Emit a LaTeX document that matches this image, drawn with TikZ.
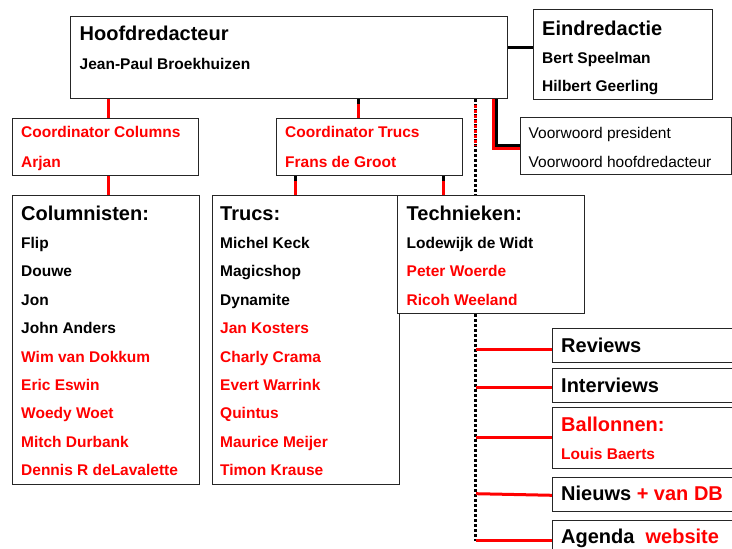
\documentclass[tikz,border=0pt]{standalone}
\usepackage{fontspec}
\setmainfont{Liberation Sans}
\pgfdeclarelayer{bg}
\pgfsetlayers{bg,main}
\begin{document}
\begin{tikzpicture}[x=1pt,y=-1pt,
  box/.style={draw=black!85, line width=1pt, fill=white, inner sep=0pt, anchor=north west, rectangle},
  ttl/.style={anchor=base west, inner sep=0pt, font=\fontsize{20}{24}\selectfont\bfseries},
  nm/.style={anchor=base west, inner sep=0pt, font=\fontsize{15.5}{18}\selectfont\bfseries},
  rg/.style={anchor=base west, inner sep=0pt, font=\fontsize{15.5}{18}\selectfont},
  rline/.style={draw=red, line width=3pt},
  bline/.style={draw=black, line width=3pt},
  dotline/.style={draw=black, line width=3pt, dash pattern=on 3pt off 2pt},
  rdotline/.style={draw=red, line width=3pt, dash pattern=on 3pt off 2pt}]
\useasboundingbox (0,0) rectangle (732,549);
% boxes
\node[box, minimum width=437.5pt, minimum height=82.3pt] (hoofd) at (69.5,15.7) {};
\node[box, minimum width=179.3pt, minimum height=90pt] (eind) at (532.7,9.3) {};
\node[box, minimum width=210.5pt, minimum height=57pt] (voor) at (520,117) {};
\node[box, minimum width=186pt, minimum height=56.7pt] (cc) at (12.3,118.3) {};
\node[box, minimum width=186.6pt, minimum height=56.2pt] (ct) at (275.7,118.3) {};
\node[box, minimum width=186.7pt, minimum height=289pt] (col) at (12.3,195) {};
\node[box, minimum width=187.3pt, minimum height=289pt] (trucs) at (211.7,195) {};
\node[box, minimum width=186.7pt, minimum height=117.7pt] (tech) at (397.3,195) {};
\node[box, minimum width=195pt, minimum height=34.5pt] (rev) at (552.3,327.5) {};
\node[box, minimum width=195pt, minimum height=34pt] (int) at (552.3,367.7) {};
\node[box, minimum width=195pt, minimum height=61.8pt] (bal) at (552.3,406.5) {};
\node[box, minimum width=195pt, minimum height=34pt] (nie) at (552.3,476.7) {};
\node[box, minimum width=195pt, minimum height=45pt] (age) at (552.3,519.7) {};
% helper coordinates
\coordinate (xc) at (108,0);
\coordinate (xt) at (358.3,0);
\coordinate (xtr) at (295,0);
\coordinate (xte) at (443,0);
\coordinate (xd) at (475,0);
\coordinate (xv) at (496,0);
\coordinate (xvr) at (493,0);
\coordinate (ye) at (0,47.7);
\coordinate (yv) at (0,145);
\coordinate (yvr) at (0,148);
\coordinate (dend) at (475,541);
\coordinate (dred) at (475,146);
\coordinate (j1) at (476,349);
\coordinate (j2) at (476,387);
\coordinate (j3) at (476,437.7);
\coordinate (j4) at (476,493.7);
\coordinate (j5) at (476,540);
\coordinate (y4) at (0,495.3);
\begin{pgfonlayer}{bg}
  \fill[white] (0,0) rectangle (732,549);
  % hoofd - eind
  \draw[bline] (hoofd.east |- ye) -- (eind.west |- ye);
  % hoofd - voorwoord
  \draw[rline] (hoofd.south -| xvr) -- (xvr |- yvr) -- (voor.west |- yvr);
  \draw[bline] (hoofd.south -| xv) -- (xv |- yv) -- (voor.west |- yv);
  % hoofd - coordinators
  \draw[rline] (hoofd.south -| xc) -- (cc.north -| xc);
  \draw[rline] (hoofd.south -| xt) -- (ct.north -| xt);
  \draw[bline] (hoofd.south -| xt) -- ++(0,5);
  % coordinators - lists
  \draw[rline] (cc.south -| xc) -- (col.north -| xc);
  \draw[rline] (ct.south -| xtr) -- ([yshift=-2pt]trucs.north -| xtr);
  \draw[bline] (ct.south -| xtr) -- ++(0,5);
  \draw[rline] (ct.south -| xte) -- (tech.north -| xte);
  \draw[bline] (ct.south -| xte) -- ++(0,5);
  % dotted spine
  \draw[dotline] (hoofd.south -| xd) -- (dend);
  \draw[rdotline] ([yshift=-6pt]hoofd.south -| xd) -- (dred);
  % spine branches
  \draw[rline] (j1) -- (rev.west |- j1);
  \draw[rline] (j2) -- (int.west |- j2);
  \draw[rline] (j3) -- (bal.west |- j3);
  \draw[rline] (j4) -- (nie.west |- y4);
  \draw[rline] (j5) -- (age.west |- j5);
\end{pgfonlayer}
% texts
\node[ttl] (t1) at (79.5,40.5) {Hoofdredacteur};
\node[nm] (t2) at (79.5,69.5) {Jean-Paul Broekhuizen};
\node[ttl] (t3) at (542,35) {Eindredactie};
\node[nm] (t4) at (542,63.2) {Bert Speelman};
\node[nm] (t5) at (542,91.5) {Hilbert Geerling};
\node[rg] (t6) at (528.5,138.8) {Voorwoord president};
\node[rg] (t7) at (528.5,167.8) {Voorwoord hoofdredacteur};
\node[nm, text=red] (t8) at (21,137.8) {Coordinator Columns};
\node[nm, text=red] (t9) at (21,167.2) {Arjan};
\node[nm, text=red] (t10) at (285,137.8) {Coordinator Trucs};
\node[nm, text=red] (t11) at (285,167.2) {Frans de Groot};
% Columnisten
\node[ttl] (c0) at (21,220) {Columnisten:};
\node[nm] (c1) at (21,248.5) {Flip};
\node[nm] (c2) at (21,276.9) {Douwe};
\node[nm] (c3) at (21,305.3) {Jon};
\node[nm] (c4) at (21,333.7) {John Anders};
\node[nm, text=red] (c5) at (21,362.1) {Wim van Dokkum};
\node[nm, text=red] (c6) at (21,390.5) {Eric Eswin};
\node[nm, text=red] (c7) at (21,418.9) {Woedy Woet};
\node[nm, text=red] (c8) at (21,447.3) {Mitch Durbank};
\node[nm, text=red] (c9) at (21,475.7) {Dennis R deLavalette};
% Trucs
\node[ttl] (u0) at (220,220) {Trucs:};
\node[nm] (u1) at (220,248.5) {Michel Keck};
\node[nm] (u2) at (220,276.9) {Magicshop};
\node[nm] (u3) at (220,305.3) {Dynamite};
\node[nm, text=red] (u4) at (220,333.7) {Jan Kosters};
\node[nm, text=red] (u5) at (220,362.1) {Charly Crama};
\node[nm, text=red] (u6) at (220,390.5) {Evert Warrink};
\node[nm, text=red] (u7) at (220,418.9) {Quintus};
\node[nm, text=red] (u8) at (220,447.3) {Maurice Meijer};
\node[nm, text=red] (u9) at (220,475.7) {Timon Krause};
% Technieken
\node[ttl] (e0) at (406.5,220) {Technieken:};
\node[nm] (e1) at (406.5,248.5) {Lodewijk de Widt};
\node[nm, text=red] (e2) at (406.5,276.9) {Peter Woerde};
\node[nm, text=red] (e3) at (406.5,305.3) {Ricoh Weeland};
% right column
\node[ttl] (r1) at (561,352) {Reviews};
\node[ttl] (r2) at (561,392.5) {Interviews};
\node[ttl, text=red] (r3) at (561,431.3) {Ballonnen:};
\node[nm, text=red] (r4) at (561,459.8) {Louis Baerts};
\node[ttl] (r5) at (561,500.3) {Nieuws \textcolor{red}{+ van DB}};
\node[ttl] (r6) at (561,543.7) {Agenda\ \ \textcolor{red}{website}};
\end{tikzpicture}
\end{document}
